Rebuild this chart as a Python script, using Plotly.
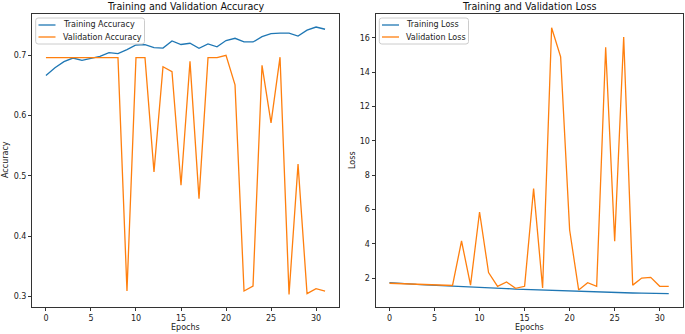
import plotly.graph_objects as go

epochs = list(range(32))

train_acc = [0.6667, 0.6795, 0.6895, 0.6955, 0.6917, 0.6950, 0.6983, 0.7045,
             0.7028, 0.7095, 0.7172, 0.7178, 0.7128, 0.7120, 0.7240, 0.7180,
             0.7200, 0.7117, 0.7190, 0.7140, 0.7245, 0.7283, 0.7222, 0.7222,
             0.7310, 0.7360, 0.7370, 0.7367, 0.7320, 0.7417, 0.7470, 0.7433]

val_acc = [0.6961, 0.6961, 0.6961, 0.6961, 0.6961, 0.6961, 0.6961, 0.6961,
           0.6961, 0.3089, 0.6961, 0.6961, 0.5067, 0.6810, 0.6728, 0.4845,
           0.6900, 0.4622, 0.6961, 0.6961, 0.7000, 0.6510, 0.3090, 0.3172,
           0.6835, 0.5878, 0.6970, 0.3033, 0.5195, 0.3045, 0.3128, 0.3089]

train_loss = [1.75, 1.70, 1.67, 1.64, 1.62, 1.60, 1.58, 1.55,
              1.52, 1.49, 1.46, 1.44, 1.42, 1.40, 1.37, 1.35,
              1.33, 1.31, 1.29, 1.27, 1.24, 1.22, 1.21, 1.19,
              1.17, 1.16, 1.15, 1.14, 1.13, 1.12, 1.12, 1.10]

val_loss = [1.71, 1.69, 1.65, 1.63, 1.62, 1.61, 1.58, 1.58,
            4.17, 1.60, 5.86, 2.33, 1.53, 1.78, 1.41, 1.53,
            7.22, 1.43, 16.59, 14.90, 4.81, 1.32, 1.74, 1.53,
            15.45, 4.15, 16.05, 1.60, 2.01, 2.05, 1.53, 1.53]

x_ticks = [0, 5, 10, 15, 20, 25, 30]
acc_ticks = [0.3, 0.4, 0.5, 0.6, 0.7]
loss_ticks = [2, 4, 6, 8, 10, 12, 14, 16]

acc_names = ["Training Accuracy", "Validation Accuracy"]
loss_names = ["Training Loss", "Validation Loss"]

BLUE = "#1f77b4"
ORANGE = "#ff7f0e"
W, H = 685, 334
FONT = "DejaVu Sans"
LW = 1.3

fig = go.Figure()
fig.add_trace(go.Scatter(x=epochs, y=train_acc, mode="lines", name=acc_names[0],
                         line=dict(color=BLUE, width=LW), xaxis="x", yaxis="y"))
fig.add_trace(go.Scatter(x=epochs, y=val_acc, mode="lines", name=acc_names[1],
                         line=dict(color=ORANGE, width=LW), xaxis="x", yaxis="y"))
fig.add_trace(go.Scatter(x=epochs, y=train_loss, mode="lines", name=loss_names[0],
                         line=dict(color=BLUE, width=LW), xaxis="x2", yaxis="y2"))
fig.add_trace(go.Scatter(x=epochs, y=val_loss, mode="lines", name=loss_names[1],
                         line=dict(color=ORANGE, width=LW), xaxis="x2", yaxis="y2"))

ax_common = dict(showline=True, linecolor="#333333", linewidth=1, mirror=True,
                 ticks="outside", ticklen=3, tickwidth=1, tickcolor="#333333",
                 showgrid=False, zeroline=False, automargin=False,
                 tickfont=dict(family=FONT, size=8, color="#222222"))

ydom = [(334 - 307) / H, (334 - 14) / H]


def label(text, x, y, size=8, angle=0, color="#222222", anchor="center"):
    return dict(text=text, x=x / W, y=1 - y / H, xref="paper", yref="paper",
                xanchor=anchor, yanchor="middle", showarrow=False, textangle=angle,
                font=dict(family=FONT, size=size, color=color))


def px(x):
    return x / W


def py(y):
    return 1 - y / H


def rounded_box(x0, y0, x1, y1, r=2.5):
    pts = [
        f"M {px(x0 + r)},{py(y0)}",
        f"L {px(x1 - r)},{py(y0)}",
        f"Q {px(x1)},{py(y0)} {px(x1)},{py(y0 + r)}",
        f"L {px(x1)},{py(y1 - r)}",
        f"Q {px(x1)},{py(y1)} {px(x1 - r)},{py(y1)}",
        f"L {px(x0 + r)},{py(y1)}",
        f"Q {px(x0)},{py(y1)} {px(x0)},{py(y1 - r)}",
        f"L {px(x0)},{py(y0 + r)}",
        f"Q {px(x0)},{py(y0)} {px(x0 + r)},{py(y0)}",
        "Z",
    ]
    return dict(type="path", path=" ".join(pts), xref="paper", yref="paper",
                line=dict(color="#cccccc", width=1), fillcolor="rgba(255,255,255,0.8)",
                layer="above")


def legend_items(names, colors, x0, x1, hx0, hx1, tx, rows):
    shapes = [rounded_box(x0, 18, x1, 44)]
    anns = []
    for name, col, ry in zip(names, colors, rows):
        shapes.append(dict(type="line", xref="paper", yref="paper",
                           x0=px(hx0), x1=px(hx1), y0=py(ry), y1=py(ry),
                           line=dict(color=col, width=LW), layer="above"))
        anns.append(label(name, tx, ry, anchor="left"))
    return shapes, anns


s1, a1 = legend_items(acc_names, [BLUE, ORANGE], 35.7, 144.5, 38.5, 55.5, 60.5, [25, 37])
s2, a2 = legend_items(loss_names, [BLUE, ORANGE], 379.3, 468.5, 382, 399, 404, [25, 37])

fig.update_layout(
    width=W, height=H,
    margin=dict(l=0, r=0, t=0, b=0, pad=0),
    paper_bgcolor="white", plot_bgcolor="white",
    font=dict(family=FONT, size=8, color="#222222"),
    showlegend=False,
    xaxis=dict(domain=[32 / W, 339 / W], range=[-1.55, 32.55], tickvals=x_ticks,
               anchor="y", **ax_common),
    yaxis=dict(domain=ydom, range=[0.2824, 0.7686], tickvals=acc_ticks,
               tickformat=".1f", anchor="x", **ax_common),
    xaxis2=dict(domain=[375.5 / W, 682.7 / W], range=[-1.55, 32.55], tickvals=x_ticks,
                anchor="y2", **ax_common),
    yaxis2=dict(domain=ydom, range=[0.326, 17.39], tickvals=loss_ticks,
                anchor="x2", **ax_common),
    shapes=s1 + s2,
    annotations=[
        label("Training and Validation Accuracy", (32 + 339) / 2, 6, size=9.6, color="#111111"),
        label("Training and Validation Loss", (375.5 + 682.7) / 2, 6, size=9.6, color="#111111"),
        label("Epochs", (32 + 339) / 2, 327),
        label("Epochs", (375.5 + 682.7) / 2, 327),
        label("Accuracy", 5, 160, angle=-90),
        label("Loss", 352, 160, angle=-90),
    ] + a1 + a2,
)

fig.write_html("out.html", config={"displayModeBar": False},
               post_script="document.body.style.margin='0';document.body.style.padding='0';")
